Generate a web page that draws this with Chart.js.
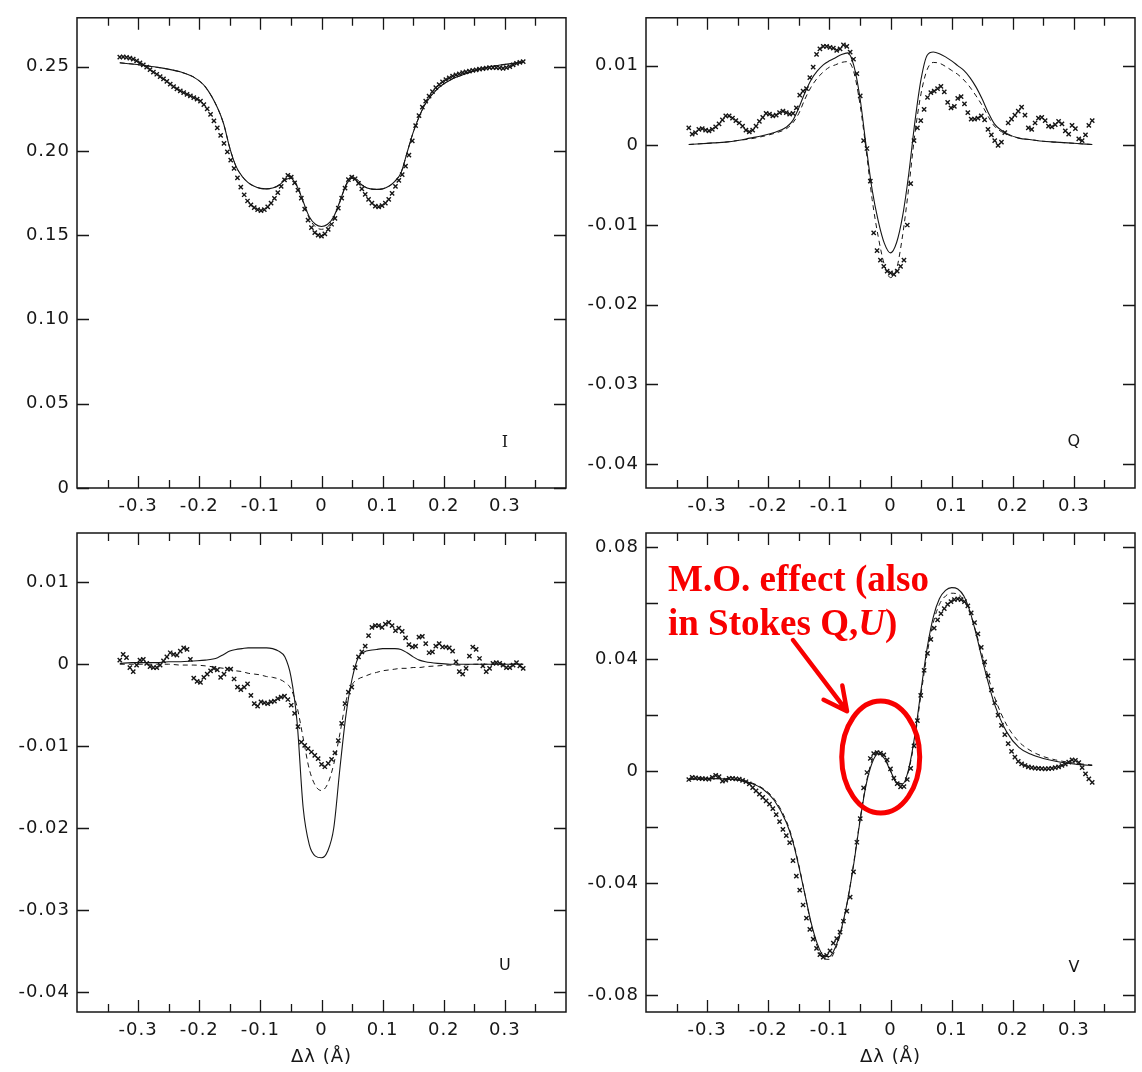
<!DOCTYPE html>
<html>
<head>
<meta charset="utf-8">
<title>Stokes profiles</title>
<script src="https://cdn.jsdelivr.net/npm/chart.js@4.4.1/dist/chart.umd.min.js"></script>
<style>
  body { margin: 0; background: #fff; width: 1142px; height: 1072px; position: relative; overflow: hidden; }
  canvas.panel { position: absolute; }
</style>
</head>
<body>
<canvas id="stokes_i" class="panel" width="580" height="530" style="left:0;top:0"></canvas>
<canvas id="stokes_q" class="panel" width="572" height="530" style="left:570px;top:0"></canvas>
<canvas id="stokes_u" class="panel" width="580" height="572" style="left:0;top:500px"></canvas>
<canvas id="stokes_v" class="panel" width="572" height="572" style="left:570px;top:500px"></canvas>
<script>
// wavelength samples of the observed profile (Angstrom from line centre)
const xObs = [
  -0.3300, -0.3245, -0.3190, -0.3135, -0.3080, -0.3025, -0.2970, -0.2915, -0.2860, -0.2805,
  -0.2750, -0.2695, -0.2640, -0.2585, -0.2530, -0.2475, -0.2420, -0.2365, -0.2310, -0.2255,
  -0.2200, -0.2145, -0.2090, -0.2035, -0.1980, -0.1925, -0.1870, -0.1815, -0.1760, -0.1705,
  -0.1650, -0.1595, -0.1540, -0.1485, -0.1430, -0.1375, -0.1320, -0.1265, -0.1210, -0.1155,
  -0.1100, -0.1045, -0.0990, -0.0935, -0.0880, -0.0825, -0.0770, -0.0715, -0.0660, -0.0605,
  -0.0550, -0.0495, -0.0440, -0.0385, -0.0330, -0.0275, -0.0220, -0.0165, -0.0110, -0.0055,
  0,
  0.0055, 0.0110, 0.0165, 0.0220, 0.0275, 0.0330, 0.0385, 0.0440, 0.0495, 0.0550,
  0.0605, 0.0660, 0.0715, 0.0770, 0.0825, 0.0880, 0.0935, 0.0990, 0.1045, 0.1100,
  0.1155, 0.1210, 0.1265, 0.1320, 0.1375, 0.1430, 0.1485, 0.1540, 0.1595, 0.1650,
  0.1705, 0.1760, 0.1815, 0.1870, 0.1925, 0.1980, 0.2035, 0.2090, 0.2145, 0.2200,
  0.2255, 0.2310, 0.2365, 0.2420, 0.2475, 0.2530, 0.2585, 0.2640, 0.2695, 0.2750,
  0.2805, 0.2860, 0.2915, 0.2970, 0.3025, 0.3080, 0.3135, 0.3190, 0.3245, 0.3300];

// wavelength grid of the two model fits
const xModel = [-0.33, -0.31, -0.29, -0.27, -0.25, -0.23, -0.21, -0.19, -0.17,
  -0.16, -0.15, -0.14, -0.13, -0.12, -0.11, -0.10, -0.09, -0.08, -0.07, -0.06, -0.05, -0.04, -0.03, -0.02, -0.01,
  0,
  0.01, 0.02, 0.03, 0.04, 0.05, 0.06, 0.07, 0.08, 0.09, 0.10, 0.11, 0.12, 0.13, 0.14, 0.15, 0.16,
  0.17, 0.19, 0.21, 0.23, 0.25, 0.27, 0.29, 0.31, 0.33];

// Stokes I
const iObs = [
  0.2557, 0.2558, 0.2555, 0.2551, 0.2545, 0.2535, 0.2523, 0.2510, 0.2497, 0.2483,
  0.2468, 0.2455, 0.2441, 0.2427, 0.2413, 0.2397, 0.2381, 0.2368, 0.2357, 0.2346,
  0.2336, 0.2327, 0.2317, 0.2307, 0.2295, 0.2275, 0.2250, 0.2217, 0.2178, 0.2137,
  0.2092, 0.2045, 0.1995, 0.1946, 0.1896, 0.1840, 0.1785, 0.1740, 0.1703, 0.1680,
  0.1664, 0.1652, 0.1646, 0.1652, 0.1668, 0.1690, 0.1718, 0.1752, 0.1790, 0.1828,
  0.1855, 0.1845, 0.1810, 0.1768, 0.1720, 0.1655, 0.1590, 0.1545, 0.1515, 0.1500,
  0.1494,
  0.1508, 0.1535, 0.1565, 0.1600, 0.1660, 0.1720, 0.1780, 0.1830, 0.1845, 0.1835,
  0.1808, 0.1775, 0.1742, 0.1712, 0.1690, 0.1672, 0.1668, 0.1676, 0.1690, 0.1712,
  0.1748, 0.1790, 0.1825, 0.1860, 0.1910, 0.1975, 0.2060, 0.2150, 0.2210, 0.2260,
  0.2295, 0.2325, 0.2352, 0.2375, 0.2394, 0.2410, 0.2423, 0.2434, 0.2444, 0.2452,
  0.2458, 0.2464, 0.2469, 0.2474, 0.2478, 0.2481, 0.2485, 0.2489, 0.2492, 0.2494,
  0.2495, 0.2495, 0.2493, 0.2490, 0.2494, 0.2500, 0.2510, 0.2520, 0.2526, 0.2530];
const iFit = [0.2523, 0.2516, 0.2507, 0.2497, 0.2485, 0.2468, 0.2440, 0.2380, 0.2255,
  0.2160, 0.2017, 0.1910, 0.1850, 0.1812, 0.1790, 0.1778, 0.1775, 0.1780, 0.1795, 0.1828, 0.1838, 0.1790, 0.1700, 0.1610, 0.1565,
  0.1552,
  0.1565, 0.1610, 0.1700, 0.1795, 0.1838, 0.1815, 0.1788, 0.1775, 0.1772, 0.1775, 0.1790, 0.1820, 0.1870, 0.1990, 0.2110, 0.2205,
  0.2280, 0.2370, 0.2420, 0.2450, 0.2475, 0.2495, 0.2508, 0.2518, 0.2527];
const iFit2 = [0.2523, 0.2516, 0.2507, 0.2497, 0.2485, 0.2468, 0.2440, 0.2380, 0.2255,
  0.2160, 0.2017, 0.1910, 0.1850, 0.1812, 0.1790, 0.1778, 0.1775, 0.1780, 0.1798, 0.1835, 0.1850, 0.1795, 0.1695, 0.1600, 0.1550,
  0.1535,
  0.1550, 0.1600, 0.1695, 0.1800, 0.1850, 0.1825, 0.1790, 0.1775, 0.1772, 0.1775, 0.1790, 0.1820, 0.1870, 0.1990, 0.2110, 0.2205,
  0.2280, 0.2370, 0.2420, 0.2450, 0.2475, 0.2495, 0.2508, 0.2518, 0.2527];

// Stokes Q
const qObs = [
  0.0022, 0.0014, 0.0016, 0.0020, 0.0021, 0.0019, 0.0018, 0.0020, 0.0023, 0.0027,
  0.0032, 0.0037, 0.0037, 0.0034, 0.0031, 0.0028, 0.0024, 0.0019, 0.0017, 0.0019,
  0.0024, 0.0030, 0.0035, 0.0040, 0.0039, 0.0037, 0.0038, 0.0041, 0.0043, 0.0041,
  0.0039, 0.0040, 0.0047, 0.0063, 0.0068, 0.0071, 0.0085, 0.0098, 0.0114, 0.0121,
  0.0124, 0.0124, 0.0123, 0.0122, 0.0119, 0.0121, 0.0126, 0.0124, 0.0117, 0.0108,
  0.0090, 0.0062, 0.0006, -0.0004, -0.0045, -0.0110, -0.0132, -0.0144, -0.0152, -0.0158,
  -0.0160,
  -0.0162, -0.0158, -0.0152, -0.0144, -0.0100, -0.0048, 0.0006, 0.0022, 0.0031, 0.0045,
  0.0060, 0.0066, 0.0068, 0.0071, 0.0074, 0.0067, 0.0054, 0.0047, 0.0049, 0.0059,
  0.0061, 0.0052, 0.0041, 0.0033, 0.0033, 0.0034, 0.0037, 0.0032, 0.0020, 0.0013,
  0.0006, 0.0000, 0.0004, 0.0016, 0.0028, 0.0033, 0.0038, 0.0043, 0.0048, 0.0038,
  0.0022, 0.0020, 0.0028, 0.0034, 0.0035, 0.0031, 0.0024, 0.0023, 0.0026, 0.0030,
  0.0027, 0.0018, 0.0014, 0.0025, 0.0021, 0.0008, 0.0006, 0.0013, 0.0025, 0.0031];
const qFit = [0.0001, 0.0002, 0.0003, 0.0004, 0.0006, 0.0009, 0.0012, 0.0016, 0.0023,
  0.0031, 0.0047, 0.0066, 0.0082, 0.0093, 0.0101, 0.0106, 0.0110, 0.0114, 0.0116, 0.0100, 0.0060, 0.0000, -0.0056, -0.0095, -0.0123,
  -0.0135,
  -0.0122, -0.0088, -0.0035, 0.0030, 0.0083, 0.0113, 0.0117, 0.0115, 0.0111, 0.0106, 0.0100, 0.0094, 0.0085, 0.0073, 0.0058, 0.0041,
  0.0027, 0.0015, 0.0009, 0.0007, 0.0005, 0.0004, 0.0003, 0.0002, 0.0001];
const qFit2 = [0.0001, 0.0002, 0.0003, 0.0004, 0.0006, 0.0008, 0.0011, 0.0015, 0.0021,
  0.0028, 0.0040, 0.0058, 0.0073, 0.0084, 0.0092, 0.0098, 0.0101, 0.0104, 0.0105, 0.0092, 0.0052, -0.0005, -0.0068, -0.0115, -0.0150,
  -0.0166,
  -0.0155, -0.0112, -0.0052, 0.0015, 0.0065, 0.0095, 0.0104, 0.0103, 0.0099, 0.0094, 0.0089, 0.0082, 0.0073, 0.0062, 0.0050, 0.0036,
  0.0024, 0.0014, 0.0009, 0.0007, 0.0005, 0.0004, 0.0003, 0.0002, 0.0001];

// Stokes U
const uObs = [
  0.0005, 0.0012, 0.0008, -0.0004, -0.0009, -0.0001, 0.0005, 0.0006, 0.0001, -0.0003,
  -0.0004, -0.0004, -0.0001, 0.0004, 0.0009, 0.0014, 0.0012, 0.0011, 0.0016, 0.0020,
  0.0018, 0.0006, -0.0017, -0.0021, -0.0022, -0.0016, -0.0012, -0.0008, -0.0005, -0.0007,
  -0.0016, -0.0012, -0.0006, -0.0006, -0.0018, -0.0028, -0.0031, -0.0028, -0.0024, -0.0038,
  -0.0048, -0.0051, -0.0046, -0.0047, -0.0048, -0.0046, -0.0045, -0.0042, -0.0040, -0.0039,
  -0.0043, -0.0050, -0.0060, -0.0076, -0.0095, -0.0099, -0.0103, -0.0107, -0.0111, -0.0115,
  -0.0122,
  -0.0125, -0.0121, -0.0116, -0.0108, -0.0093, -0.0072, -0.0048, -0.0034, -0.0028, -0.0004,
  0.0009, 0.0015, 0.0022, 0.0035, 0.0045, 0.0047, 0.0047, 0.0045, 0.0049, 0.0051,
  0.0047, 0.0041, 0.0044, 0.0040, 0.0032, 0.0024, 0.0021, 0.0022, 0.0033, 0.0034,
  0.0025, 0.0014, 0.0015, 0.0022, 0.0025, 0.0021, 0.0021, 0.0020, 0.0016, 0.0003,
  -0.0009, -0.0012, -0.0005, 0.0010, 0.0021, 0.0018, 0.0007, -0.0002, -0.0009, -0.0005,
  0.0001, 0.0002, 0.0001, -0.0001, -0.0004, -0.0004, -0.0001, 0.0002, -0.0002, -0.0005];
const uFit = [0.0001, 0.0002, 0.0002, 0.0002, 0.0003, 0.0003, 0.0004, 0.0005, 0.0008,
  0.0012, 0.0016, 0.0018, 0.0019, 0.0020, 0.0020, 0.0020, 0.0020, 0.0019, 0.0016, 0.0009, -0.0015, -0.0070, -0.0175, -0.0220, -0.0234,
  -0.0236,
  -0.0228, -0.0200, -0.0128, -0.0062, -0.0018, 0.0008, 0.0015, 0.0017, 0.0018, 0.0019, 0.0019, 0.0019, 0.0018, 0.0014, 0.0009, 0.0005,
  0.0003, 0.0001, 0.0000, 0.0000, 0.0000, 0.0000, 0.0000, 0.0000, 0.0000];
const uFit2 = [0.0000, 0.0000, 0.0000, 0.0000, 0.0000, -0.0001, -0.0001, -0.0002, -0.0004,
  -0.0005, -0.0006, -0.0008, -0.0009, -0.0011, -0.0012, -0.0013, -0.0015, -0.0016, -0.0018, -0.0022, -0.0030, -0.0052, -0.0090, -0.0128, -0.0148,
  -0.0154,
  -0.0146, -0.0122, -0.0085, -0.0045, -0.0025, -0.0018, -0.0015, -0.0012, -0.0010, -0.0008, -0.0007, -0.0006, -0.0005, -0.0005, -0.0004, -0.0004,
  -0.0003, -0.0002, -0.0001, -0.0001, 0.0000, 0.0000, 0.0000, 0.0000, 0.0000];

// Stokes V
const vObs = [
  -0.0030, -0.0022, -0.0024, -0.0026, -0.0027, -0.0028, -0.0029, -0.0022, -0.0015, -0.0020,
  -0.0036, -0.0032, -0.0026, -0.0026, -0.0028, -0.0029, -0.0033, -0.0038, -0.0046, -0.0059,
  -0.0071, -0.0082, -0.0094, -0.0106, -0.0118, -0.0134, -0.0155, -0.0180, -0.0208, -0.0230,
  -0.0255, -0.0320, -0.0375, -0.0425, -0.0478, -0.0525, -0.0565, -0.0600, -0.0633, -0.0655,
  -0.0664, -0.0658, -0.0642, -0.0614, -0.0598, -0.0575, -0.0536, -0.0500, -0.0450, -0.0360,
  -0.0254, -0.0170, -0.0060, -0.0005, 0.0045, 0.0062, 0.0066, 0.0064, 0.0058, 0.0040,
  0.0008,
  -0.0025, -0.0045, -0.0056, -0.0055, -0.0030, 0.0010, 0.0090, 0.0180, 0.0270, 0.0360,
  0.0420, 0.0470, 0.0510, 0.0540, 0.0562, 0.0580, 0.0595, 0.0605, 0.0612, 0.0615,
  0.0612, 0.0605, 0.0590, 0.0565, 0.0530, 0.0490, 0.0442, 0.0390, 0.0340, 0.0290,
  0.0244, 0.0200, 0.0163, 0.0130, 0.0098, 0.0070, 0.0050, 0.0035, 0.0026, 0.0020,
  0.0015, 0.0012, 0.0011, 0.0010, 0.0009, 0.0008, 0.0009, 0.0010, 0.0012, 0.0015,
  0.0020, 0.0025, 0.0032, 0.0040, 0.0038, 0.0030, 0.0012, -0.0010, -0.0028, -0.0040];
const vFit = [-0.0030, -0.0028, -0.0027, -0.0028, -0.0032, -0.0042, -0.0062, -0.0105, -0.0185,
  -0.0250, -0.0340, -0.0440, -0.0540, -0.0615, -0.0658, -0.0662, -0.0628, -0.0560, -0.0460, -0.0330, -0.0180, -0.0050, 0.0030, 0.0062, 0.0045,
  0.0000,
  -0.0040, -0.0045, 0.0010, 0.0130, 0.0290, 0.0440, 0.0550, 0.0615, 0.0645, 0.0655, 0.0650, 0.0625, 0.0570, 0.0490, 0.0400, 0.0315,
  0.0240, 0.0140, 0.0085, 0.0060, 0.0045, 0.0035, 0.0028, 0.0023, 0.0020];
const vFit2 = [-0.0028, -0.0027, -0.0026, -0.0027, -0.0031, -0.0040, -0.0060, -0.0100, -0.0180,
  -0.0245, -0.0335, -0.0440, -0.0545, -0.0625, -0.0670, -0.0672, -0.0635, -0.0565, -0.0460, -0.0325, -0.0175, -0.0045, 0.0040, 0.0072, 0.0052,
  0.0002,
  -0.0045, -0.0050, 0.0005, 0.0120, 0.0275, 0.0420, 0.0530, 0.0595, 0.0625, 0.0635, 0.0632, 0.0610, 0.0565, 0.0495, 0.0415, 0.0335,
  0.0265, 0.0165, 0.0105, 0.0072, 0.0052, 0.0040, 0.0032, 0.0026, 0.0022];

// axis ticks
const xTickLabels = [-0.3, -0.2, -0.1, 0, 0.1, 0.2, 0.3];
const xTickMarks = [-0.35, -0.3, -0.25, -0.2, -0.15, -0.1, -0.05, 0, 0.05, 0.1, 0.15, 0.2, 0.25, 0.3, 0.35];
const iTickLabels = [0, 0.05, 0.10, 0.15, 0.20, 0.25];
const quTickLabels = [0.01, 0, -0.01, -0.02, -0.03, -0.04];
const vTickLabels = [0.08, 0.04, 0, -0.04, -0.08];
const vTickMarks = [0.08, 0.06, 0.04, 0.02, 0, -0.02, -0.04, -0.06, -0.08];

const INK = '#161616';
const RED = 'rgb(248,0,0)';
const FAMILY = "'DejaVu Sans', sans-serif";

function pts(xs, ys) {
  return xs.map((x, i) => ({ x: x, y: ys[i] }));
}

function profileSets(obs, fit, fit2) {
  return [
    { data: pts(xObs, obs), showLine: false, pointStyle: 'crossRot', pointRadius: 3,
      borderColor: INK, backgroundColor: INK, borderWidth: 1.4 },
    { data: pts(xModel, fit), pointRadius: 0, borderColor: INK, borderWidth: 1.1,
      cubicInterpolationMode: 'monotone', fill: false },
    { data: pts(xModel, fit2), pointRadius: 0, borderColor: INK, borderWidth: 1,
      borderDash: [5, 4], cubicInterpolationMode: 'monotone', fill: false }
  ];
}

// box frame with inward tick marks and the panel letter
function framePlugin(yMarks, letter, letterAt, letterFont) {
  return {
    id: 'stokesFrame',
    beforeDraw(chart) {
      chart.ctx.letterSpacing = '1px';
    },
    afterDatasetsDraw(chart) {
      const { ctx, chartArea: a, scales: { x, y } } = chart;
      ctx.save();
      ctx.strokeStyle = INK;
      ctx.lineWidth = 1.5;
      ctx.strokeRect(a.left, a.top, a.right - a.left, a.bottom - a.top);
      ctx.lineWidth = 1.3;
      ctx.beginPath();
      xTickMarks.forEach(v => {
        const px = Math.round(x.getPixelForValue(v)) + 0.5;
        const len = xTickLabels.includes(v) ? 12 : 8;
        ctx.moveTo(px, a.top); ctx.lineTo(px, a.top + len);
        ctx.moveTo(px, a.bottom); ctx.lineTo(px, a.bottom - len);
      });
      yMarks.forEach(v => {
        const py = Math.round(y.getPixelForValue(v)) + 0.5;
        ctx.moveTo(a.left, py); ctx.lineTo(a.left + 12, py);
        ctx.moveTo(a.right, py); ctx.lineTo(a.right - 12, py);
      });
      ctx.stroke();
      ctx.letterSpacing = '0px';
      ctx.fillStyle = INK;
      ctx.font = letterFont;
      ctx.textAlign = 'center';
      ctx.textBaseline = 'middle';
      ctx.fillText(letter, x.getPixelForValue(letterAt[0]), y.getPixelForValue(letterAt[1]));
      ctx.restore();
    }
  };
}

// red note about the magneto-optical bump in V
const moNote = {
  id: 'moNote',
  afterDraw(chart) {
    const { ctx, scales: { x, y } } = chart;
    ctx.save();
    ctx.letterSpacing = '0px';
    ctx.strokeStyle = RED;
    ctx.fillStyle = RED;

    ctx.lineWidth = 5;
    ctx.beginPath();
    ctx.ellipse(x.getPixelForValue(-0.016), y.getPixelForValue(0.005), 39, 56, 0, 0, Math.PI * 2);
    ctx.stroke();

    const x0 = x.getPixelForValue(-0.1596), y0 = y.getPixelForValue(0.0468);
    const x1 = x.getPixelForValue(-0.0712), y1 = y.getPixelForValue(0.0214);
    const ang = Math.atan2(y1 - y0, x1 - x0);
    ctx.lineWidth = 4.5;
    ctx.lineCap = 'round';
    ctx.lineJoin = 'round';
    ctx.beginPath();
    ctx.moveTo(x0, y0);
    ctx.lineTo(x1, y1);
    ctx.moveTo(x1 + 26 * Math.cos(ang + Math.PI - 0.47), y1 + 26 * Math.sin(ang + Math.PI - 0.47));
    ctx.lineTo(x1, y1);
    ctx.lineTo(x1 + 26 * Math.cos(ang + Math.PI + 0.47), y1 + 26 * Math.sin(ang + Math.PI + 0.47));
    ctx.stroke();

    const bold = "bold 37px 'Liberation Serif', 'Times New Roman', serif";
    const boldItalic = "italic bold 37px 'Liberation Serif', 'Times New Roman', serif";
    ctx.textAlign = 'left';
    ctx.textBaseline = 'alphabetic';
    const tx = x.getPixelForValue(-0.364);
    ctx.font = bold;
    ctx.fillText('M.O. effect (also', tx, y.getPixelForValue(0.0643));
    const by = y.getPixelForValue(0.0486);
    let cx = tx;
    [['in Stokes Q,', bold], ['U', boldItalic], [')', bold]].forEach(([t, f]) => {
      ctx.font = f;
      ctx.fillText(t, cx, by);
      cx += ctx.measureText(t).width;
    });
    ctx.restore();
  }
};

function makePanel(id, cfg) {
  const tickFont = { family: FAMILY, size: 18 };
  const xScale = {
    type: 'linear', min: -0.4, max: 0.4,
    afterBuildTicks: s => { s.ticks = xTickLabels.map(v => ({ value: v })); },
    afterFit: s => { s.height = cfg.xHeight; },
    grid: { display: false, drawTicks: false },
    border: { display: false },
    ticks: { padding: 8, color: INK, font: tickFont, autoSkip: false, maxRotation: 0, minRotation: 0,
      callback: v => (v === 0 ? '0' : v.toFixed(1)) }
  };
  if (cfg.title) {
    xScale.title = { display: true, text: 'Δλ (Å)', color: INK, font: tickFont, padding: { top: 0, bottom: 4 } };
  }
  return new Chart(document.getElementById(id), {
    type: 'line',
    data: { datasets: profileSets(cfg.obs, cfg.fit, cfg.fit2) },
    options: {
      responsive: false,
      animation: false,
      devicePixelRatio: 1,
      events: [],
      layout: { autoPadding: false, padding: { left: 0, top: cfg.top, right: cfg.right, bottom: 0 } },
      plugins: { legend: { display: false }, tooltip: { enabled: false } },
      scales: {
        x: xScale,
        y: {
          type: 'linear', min: cfg.yMin, max: cfg.yMax,
          afterBuildTicks: s => { s.ticks = cfg.yLabels.map(v => ({ value: v })); },
          afterFit: s => { s.width = cfg.yWidth; },
          grid: { display: false, drawTicks: false },
          border: { display: false },
          ticks: { padding: 7, color: INK, font: tickFont, autoSkip: false,
            callback: v => (v === 0 ? '0' : v.toFixed(2)) }
        }
      }
    },
    plugins: [framePlugin(cfg.yMarks, cfg.letter, cfg.letterAt, cfg.letterFont)].concat(cfg.extra || [])
  });
}

makePanel('stokes_i', {
  obs: iObs, fit: iFit, fit2: iFit2,
  yMin: 0, yMax: 0.279, yLabels: iTickLabels, yMarks: iTickLabels,
  top: 8, right: 14, yWidth: 77, xHeight: 42,
  letter: 'I', letterAt: [0.3, 0.0267], letterFont: "16px 'DejaVu Serif', serif"
});

makePanel('stokes_q', {
  obs: qObs, fit: qFit, fit2: qFit2,
  yMin: -0.043, yMax: 0.016, yLabels: quTickLabels, yMarks: quTickLabels,
  top: 7, right: 7, yWidth: 76, xHeight: 42,
  letter: 'Q', letterAt: [0.3, -0.0372], letterFont: "16px " + FAMILY
});

makePanel('stokes_u', {
  obs: uObs, fit: uFit, fit2: uFit2,
  yMin: -0.0424, yMax: 0.016, yLabels: quTickLabels, yMarks: quTickLabels,
  top: 33, right: 14, yWidth: 77, xHeight: 60, title: true,
  letter: 'U', letterAt: [0.3, -0.0368], letterFont: "16px " + FAMILY
});

makePanel('stokes_v', {
  obs: vObs, fit: vFit, fit2: vFit2,
  yMin: -0.086, yMax: 0.085, yLabels: vTickLabels, yMarks: vTickMarks,
  top: 33, right: 7, yWidth: 76, xHeight: 60, title: true,
  letter: 'V', letterAt: [0.3, -0.0704], letterFont: "16px " + FAMILY,
  extra: [moNote]
});
</script>
</body>
</html>
